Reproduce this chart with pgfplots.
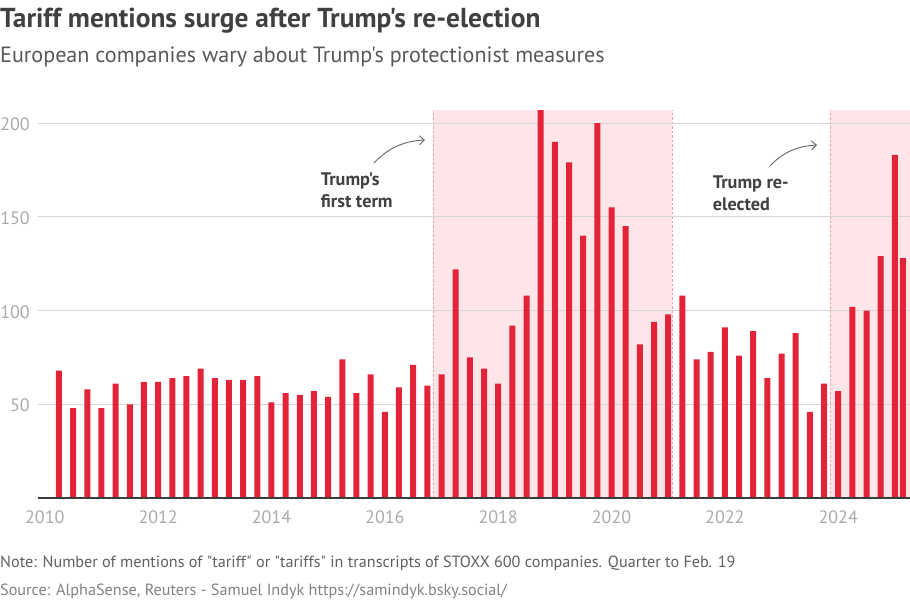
\documentclass[border=0pt]{standalone}
\usepackage{fontspec}
\setmainfont{PT Sans}
\newfontfamily\pt{PT Sans}
\usepackage{pgfplots}
\usepackage{pgfplotstable}
\pgfplotsset{compat=1.18}
\usetikzlibrary{arrows.meta}

\definecolor{barred}{RGB}{226,35,56}
\definecolor{shadec}{RGB}{253,229,232}
\definecolor{dashc}{RGB}{236,160,170}
\definecolor{titlec}{RGB}{64,64,64}
\definecolor{subc}{RGB}{88,88,88}
\definecolor{notec}{RGB}{96,96,96}
\definecolor{srcc}{RGB}{130,130,130}
\definecolor{tickc}{RGB}{170,170,170}
\definecolor{gridc}{RGB}{214,214,214}
\definecolor{basec}{RGB}{60,60,60}
\definecolor{arrowc}{RGB}{100,100,100}

\pgfplotstableread{
x y
2010.25 68
2010.5 48
2010.75 58
2011.0 48
2011.25 61
2011.5 50
2011.75 62
2012.0 62
2012.25 64
2012.5 65
2012.75 69
2013.0 64
2013.25 63
2013.5 63
2013.75 65
2014.0 51
2014.25 56
2014.5 55
2014.75 57
2015.0 54
2015.25 74
2015.5 56
2015.75 66
2016.0 46
2016.25 59
2016.5 71
2016.75 60
2017.0 66
2017.25 122
2017.5 75
2017.75 69
2018.0 61
2018.25 92
2018.5 108
2018.75 207
2019.0 190
2019.25 179
2019.5 140
2019.75 200
2020.0 155
2020.25 145
2020.5 82
2020.75 94
2021.0 98
2021.25 108
2021.5 74
2021.75 78
2022.0 91
2022.25 76
2022.5 89
2022.75 64
2023.0 77
2023.25 88
2023.5 46
2023.75 61
2024.0 57
2024.25 102
2024.5 100
2024.75 129
2025.0 183
2025.14 128
}\mentions

\begin{document}
\begin{tikzpicture}[x=1pt,y=1pt]
\path[use as bounding box] (0,0) rectangle (910,600);
\begin{axis}[
  at={(38pt,102pt)}, anchor=south west,
  scale only axis, width=872pt, height=388pt,
  xmin=2009.88, xmax=2025.267, ymin=0, ymax=207,
  axis line style={draw=none},
  major tick length=0pt,
  ytick={50,100,150,200},
  xtick={2010,2012,...,2024},
  clip=false,
  /pgf/number format/assume math mode=true,
  tick label style={font=\pt\fontsize{18}{18}\selectfont, text=tickc},
  xticklabel style={/pgf/number format/1000 sep={}, anchor=base, inner sep=0pt, yshift=-25.3pt},
  yticklabel style={anchor=east, inner sep=0pt, xshift=-8pt, yshift=-1.2pt},
]
% shaded periods
\fill[shadec] (axis cs:2016.855,0) rectangle (axis cs:2021.073,207);
\fill[shadec] (axis cs:2023.856,0) rectangle (axis cs:2025.267,207);
\draw[dashc, line width=1pt, dash pattern=on 2.5pt off 2pt] (axis cs:2016.855,0) -- (axis cs:2016.855,207);
\draw[dashc, line width=1pt, dash pattern=on 2.5pt off 2pt] (axis cs:2021.073,0) -- (axis cs:2021.073,207);
\draw[dashc, line width=1pt, dash pattern=on 2.5pt off 2pt] (axis cs:2023.856,0) -- (axis cs:2023.856,207);
% grid lines
\foreach \v in {50,100,150,200} {
  \edef\tmp{\noexpand\draw[gridc, line width=1pt] (axis cs:2009.88,\v) -- (axis cs:2025.267,\v);}
  \tmp
}
\addplot[ybar, bar width=6pt, fill=barred, draw=none] table[x=x, y=y] {\mentions};
\draw[basec, line width=1.1pt] (axis cs:2009.88,0) -- (axis cs:2025.267,0);
\end{axis}

% titles
\node[anchor=base west, inner sep=0pt, text=titlec, font=\pt\bfseries\fontsize{27.4}{27.4}\selectfont] at (0,572) {Tariff mentions surge after Trump's re-election};
\node[anchor=base west, inner sep=0pt, text=subc, font=\pt\fontsize{22.1}{22.1}\selectfont] at (0,537) {European companies wary about Trump's protectionist measures};

% annotations
\node[anchor=base west, inner sep=0pt, text=titlec, font=\pt\bfseries\fontsize{18.2}{18.2}\selectfont] at (320.7,414.3) {Trump's};
\node[anchor=base west, inner sep=0pt, text=titlec, font=\pt\bfseries\fontsize{18.2}{18.2}\selectfont] at (320.7,392.7) {first term};
\node[anchor=base west, inner sep=0pt, text=titlec, font=\pt\bfseries\fontsize{18.2}{18.2}\selectfont] at (712.7,411) {Trump re-};
\node[anchor=base west, inner sep=0pt, text=titlec, font=\pt\bfseries\fontsize{18.2}{18.2}\selectfont] at (712.7,389.5) {elected};
\draw[arrowc, line width=0.9pt, -{Straight Barb[length=5pt,width=9pt]}] (374,437) .. controls (388,452) and (404,459) .. (425,460);
\draw[arrowc, line width=0.9pt, -{Straight Barb[length=5pt,width=9pt]}] (770,434) .. controls (783,448) and (798,454) .. (817,455);

% notes
\node[anchor=base west, inner sep=0pt, text=notec, font=\pt\fontsize{16.2}{16.2}\selectfont] at (0,32.3) {Note: Number of mentions of "tariff" or "tariffs" in transcripts of STOXX 600 companies. Quarter to Feb. 19};
\node[anchor=base west, inner sep=0pt, text=srcc, font=\pt\fontsize{16.2}{16.2}\selectfont] at (0,5) {Source: AlphaSense, Reuters - Samuel Indyk https://samindyk.bsky.social/};
\end{tikzpicture}
\end{document}
